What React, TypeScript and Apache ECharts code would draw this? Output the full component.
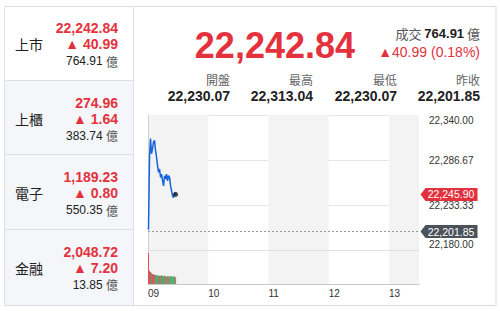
import React, { useEffect, useRef } from "react";
import * as echarts from "echarts";

// ---------- data ----------
const PANEL_NAMES = ["上市", "上櫃", "電子", "金融"];
const PANEL_PRICES = [22242.84, 274.96, 1189.23, 2048.72];
const PANEL_CHANGES = [40.99, 1.64, 0.8, 7.2];
const PANEL_VOLUMES = [764.91, 383.74, 550.35, 13.85];

const MAIN_PRICE = 22242.84;
const MAIN_CHANGE = 40.99;
const MAIN_CHANGE_PCT = 0.18;
const MAIN_VOLUME = 764.91;

const STAT_LABELS = ["開盤", "最高", "最低", "昨收"];
const STAT_VALUES = [22230.07, 22313.04, 22230.07, 22201.85];

const HOUR_LABELS = ["09", "10", "11", "12", "13"];
const SESSION_MINUTES = 270;
const PREV_CLOSE = 22201.85;
const Y_MIN = 22180;
const Y_MAX = 22340;

// one value per minute from 09:00
const PRICES = [
  22204, 22290, 22312, 22294, 22300, 22308, 22310, 22298, 22290, 22280,
  22272, 22276, 22266, 22270, 22262, 22256, 22268, 22264, 22270, 22262,
  22268, 22266, 22256, 22250, 22244, 22242, 22248, 22245.9,
];
// minute volume (億)
const VOLUMES = [
  93, 40, 36, 33, 30, 29, 27, 28, 26, 25, 27, 24, 25, 26, 24, 23, 25, 24,
  22, 24, 23, 22, 24, 23, 21, 24, 22, 20,
];

// ---------- styles ----------
const RED = "#e3323d";
const GREEN = "#3fae6a";
const NUM_FONT = '"Liberation Sans", Arial, "Noto Sans CJK TC", sans-serif';
const CJK_FONT = '"Noto Sans CJK TC", "Liberation Sans", sans-serif';

const fmt = (v: number, d = 2) =>
  v.toLocaleString("en-US", { minimumFractionDigits: d, maximumFractionDigits: d });

function txt(x: number, y: number, text: string, font: string, fill: string, align = "left", extra: any = {}) {
  return {
    type: "text",
    x,
    y,
    z: 10,
    style: {
      text,
      font,
      fill,
      textAlign: align,
      align,
      textVerticalAlign: "middle",
      verticalAlign: "middle",
      ...extra,
    },
  };
}

function buildGraphic() {
  const els: any[] = [];
  els.push({
    type: "rect",
    z: 0,
    shape: { x: 133.5, y: 6.5, width: 362.5, height: 299 },
    style: { fill: "none", stroke: "#dcdcdc", lineWidth: 1 },
  });
  const tops = [6, 80, 154, 229, 305];
  for (let i = 0; i < 4; i++) {
    els.push({
      type: "rect",
      z: 1,
      shape: { x: 4.5, y: tops[i] + 0.5, width: 129, height: tops[i + 1] - tops[i] },
      style: { fill: i === 0 ? "#ffffff" : "#f4f6f9", stroke: "#dcdfe3", lineWidth: 1 },
    });
    const c = 44 + 74.5 * i;
    els.push(txt(15, c, PANEL_NAMES[i], `14px ${CJK_FONT}`, "#222"));
    els.push(txt(118, c - 16, fmt(PANEL_PRICES[i]), `bold 14px ${NUM_FONT}`, RED, "right"));
    els.push(txt(118, c, "▲ " + fmt(PANEL_CHANGES[i]), `bold 14px ${NUM_FONT}`, RED, "right"));
    els.push(
      txt(118, c + 17, `{v|${fmt(PANEL_VOLUMES[i])}} {u|億}`, `12px ${NUM_FONT}`, "#222", "right", {
        rich: {
          v: { font: `12px ${NUM_FONT}`, fill: "#222", color: "#222" },
          u: { font: `12px ${CJK_FONT}`, fill: "#555", color: "#555" },
        },
      })
    );
  }
  els.push(txt(355, 45, fmt(MAIN_PRICE), `bold 36px ${NUM_FONT}`, RED, "right"));
  els.push(
    txt(480, 33, `{l|成交 }{v|${fmt(MAIN_VOLUME)}}{l| 億}`, `13px ${NUM_FONT}`, "#333", "right", {
      rich: {
        l: { font: `13px ${CJK_FONT}`, fill: "#555", color: "#555" },
        v: { font: `bold 13px ${NUM_FONT}`, fill: "#222", color: "#222" },
      },
    })
  );
  els.push(
    txt(480, 52, `▲${fmt(MAIN_CHANGE)} (${fmt(MAIN_CHANGE_PCT)}%)`, `14px ${NUM_FONT}`, RED, "right")
  );
  const statX = [230, 313, 397, 480];
  for (let i = 0; i < 4; i++) {
    els.push(txt(statX[i], 79, STAT_LABELS[i], `12px ${CJK_FONT}`, "#666", "right"));
    els.push(txt(statX[i], 96, fmt(STAT_VALUES[i]), `bold 14px ${NUM_FONT}`, "#222", "right"));
  }
  return els;
}

const TAG_PATH = "path://M0,6.5 L5,0 L57,0 L57,13 L5,13 Z";

// alternating hour bands (even hours shaded)
function hourBands() {
  const bands: any[] = [];
  for (let h = 0; h < HOUR_LABELS.length; h += 2) {
    bands.push([{ xAxis: h * 60 }, { xAxis: Math.min((h + 1) * 60, SESSION_MINUTES) }]);
  }
  return {
    silent: true,
    itemStyle: { color: "#f3f3f3" },
    label: { show: false },
    z: 0,
    data: bands,
  };
}

export default function App() {
  const ref = useRef<HTMLDivElement>(null);
  useEffect(() => {
    if (!ref.current) return;
    const chart = echarts.init(ref.current, undefined, { renderer: "svg" });
    const last = PRICES[PRICES.length - 1];
    const lineData = PRICES.map((p, i) => [i + 0.5, p]);
    const barData = VOLUMES.map((v, i) => ({
      value: [i + 0.5, v],
      itemStyle: { color: i === 0 || PRICES[i] >= PRICES[i - 1] ? "#e0505a" : GREEN },
    }));
    const yLabelStyle = { fontSize: 10, color: "#333", fontFamily: NUM_FONT };
    chart.setOption({
      animation: false,
      graphic: { elements: buildGraphic() },
      grid: [
        { left: 148, top: 115, width: 271, height: 135 },
        { left: 148, top: 250, width: 271, height: 34 },
      ],
      xAxis: [
        {
          type: "value",
          gridIndex: 0,
          min: 0,
          max: SESSION_MINUTES,
          interval: 60,
          axisLabel: { show: false },
          axisTick: { show: false },
          axisLine: { show: true, lineStyle: { color: "#e0e0e0" } },
          splitLine: { show: false },
        },
        {
          type: "value",
          gridIndex: 1,
          min: 0,
          max: SESSION_MINUTES,
          interval: 60,
          axisLabel: {
            show: true,
            align: "left",
            margin: 4,
            fontSize: 10,
            color: "#333",
            fontFamily: NUM_FONT,
            formatter: (v: number) => HOUR_LABELS[v / 60] ?? "",
          },
          axisTick: { show: false },
          axisLine: { show: true, lineStyle: { color: "#c8c8c8" } },
          splitLine: { show: false },
        },
      ],
      yAxis: [
        {
          type: "value",
          gridIndex: 0,
          position: "right",
          min: Y_MIN,
          max: Y_MAX,
          interval: (Y_MAX - Y_MIN) / 3,
          axisLine: { show: true, lineStyle: { color: "#d0d0d0" } },
          axisTick: { show: false },
          splitLine: { show: true, lineStyle: { color: "#e6e6e6" } },
          axisLabel: {
            margin: 10,
            ...yLabelStyle,
            formatter: (v: number) => {
              const s = fmt(v);
              if (v >= Y_MAX - 0.01) return `{t|${s}}`;
              if (v <= Y_MIN + 0.01) return `{b|${s}}`;
              return `{n|${s}}`;
            },
            rich: {
              t: { ...yLabelStyle, padding: [10, 0, 0, 0] },
              b: { ...yLabelStyle, padding: [0, 0, 12, 0] },
              n: { ...yLabelStyle },
            },
          },
        },
        {
          type: "value",
          gridIndex: 1,
          position: "right",
          min: 0,
          max: 102,
          axisLine: { show: true, lineStyle: { color: "#d0d0d0" } },
          axisTick: { show: false },
          axisLabel: { show: false },
          splitLine: { show: false },
        },
      ],
      series: [
        {
          type: "line",
          xAxisIndex: 0,
          yAxisIndex: 0,
          data: lineData,
          showSymbol: false,
          lineStyle: { color: "#1464dc", width: 1.5 },
          z: 3,
          markArea: hourBands(),
          markLine: {
            silent: true,
            symbol: ["none", "none"],
            lineStyle: { color: "#9a9a9a", type: [2, 2], width: 1 },
            label: { show: false },
            data: [{ yAxis: PREV_CLOSE }],
          },
          markPoint: {
            symbol: TAG_PATH,
            symbolSize: [57, 13],
            symbolOffset: [30, 0],
            z: 10,
            label: {
              show: true,
              color: "#fff",
              fontSize: 10.5,
              fontFamily: NUM_FONT,
              offset: [2, 0],
              formatter: (p: any) => fmt(p.value),
            },
            data: [
              { coord: [SESSION_MINUTES, last], value: last, itemStyle: { color: RED } },
              { coord: [SESSION_MINUTES, PREV_CLOSE], value: PREV_CLOSE, itemStyle: { color: "#4b525a" } },
            ],
          },
        },
        {
          type: "scatter",
          xAxisIndex: 0,
          yAxisIndex: 0,
          data: [lineData[lineData.length - 1]],
          symbolSize: 5,
          itemStyle: { color: "#1a1a1a" },
          z: 5,
        },
        {
          type: "bar",
          xAxisIndex: 1,
          yAxisIndex: 1,
          data: barData,
          barWidth: 1,
          markArea: hourBands(),
        },
      ],
    });
    return () => chart.dispose();
  }, []);
  return (
    <div
      ref={ref}
      style={{ position: "absolute", left: 0, top: 0, width: 500, height: 311, background: "#fff" }}
    />
  );
}
